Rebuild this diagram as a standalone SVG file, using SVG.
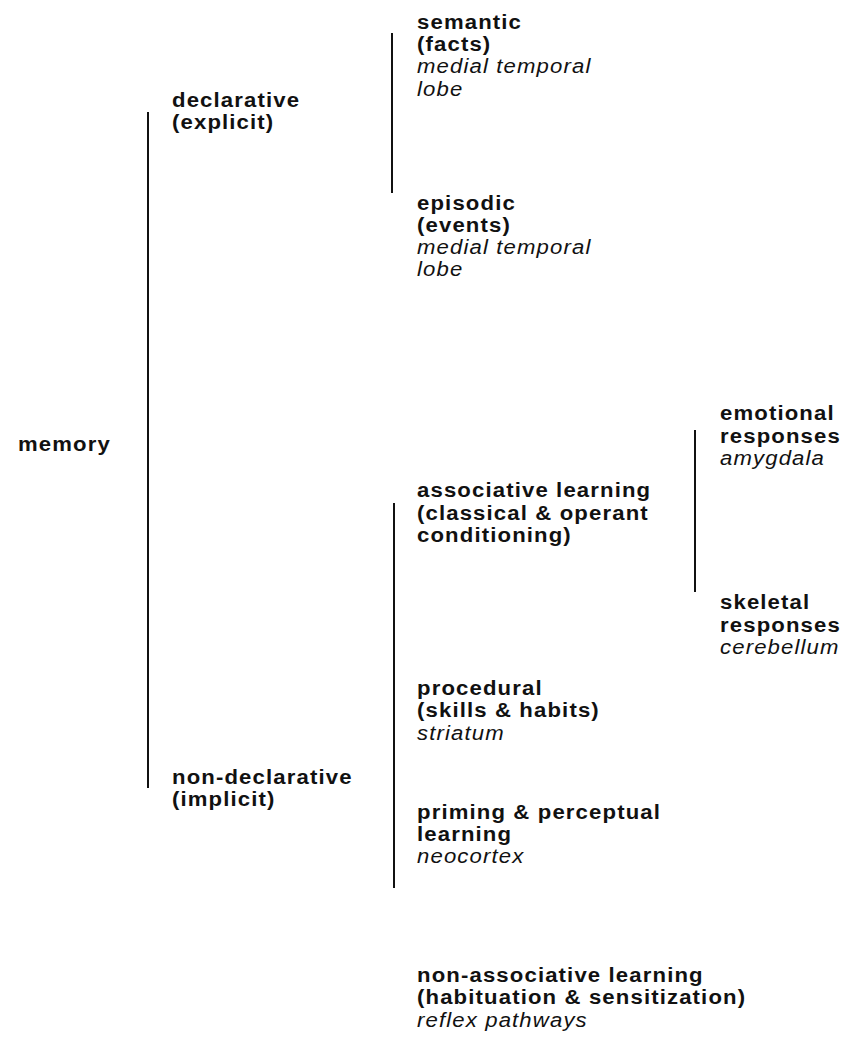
<svg xmlns="http://www.w3.org/2000/svg" width="849" height="1048" viewBox="0 0 849 1048">
<style>
text{font-family:"Liberation Sans",Arial,sans-serif;font-size:19.6px;letter-spacing:1px;fill:#111;font-weight:bold}
.i{font-style:italic;font-weight:normal}
.c{stroke:#111;stroke-width:2;fill:none}
</style>
<rect width="849" height="1048" fill="#fff"/>
<g id="connectors">
<line class="c" x1="148" y1="112" x2="148" y2="788"/>
<line class="c" x1="392" y1="33" x2="392" y2="193"/>
<line class="c" x1="394" y1="503" x2="394" y2="888"/>
<line class="c" x1="695" y1="430" x2="695" y2="592"/>
</g>
<g id="memory" transform="translate(18,0) scale(1.13,1)"><text x="0" y="451">memory</text></g>
<g id="declarative" transform="translate(172,0) scale(1.13,1)"><text x="0" y="107">declarative<tspan x="0" dy="22">(explicit)</tspan></text></g>
<g id="semantic" transform="translate(417,0) scale(1.13,1)"><text x="0" y="29">semantic<tspan x="0" dy="22">(facts)</tspan><tspan class="i" x="0" dy="22">medial temporal</tspan><tspan class="i" x="0" dy="23">lobe</tspan></text></g>
<g id="episodic" transform="translate(417,0) scale(1.13,1)"><text x="0" y="210">episodic<tspan x="0" dy="22">(events)</tspan><tspan class="i" x="0" dy="22">medial temporal</tspan><tspan class="i" x="0" dy="22">lobe</tspan></text></g>
<g id="non-declarative" transform="translate(172,0) scale(1.13,1)"><text x="0" y="784">non-declarative<tspan x="0" dy="22">(implicit)</tspan></text></g>
<g id="associative" transform="translate(417,0) scale(1.13,1)"><text x="0" y="497">associative learning<tspan x="0" dy="23">(classical &amp; operant</tspan><tspan x="0" dy="22">conditioning)</tspan></text></g>
<g id="emotional" transform="translate(720,0) scale(1.13,1)"><text x="0" y="420">emotional<tspan x="0" dy="23">responses</tspan><tspan class="i" x="0" dy="22">amygdala</tspan></text></g>
<g id="skeletal" transform="translate(720,0) scale(1.13,1)"><text x="0" y="609">skeletal<tspan x="0" dy="23">responses</tspan><tspan class="i" x="0" dy="22">cerebellum</tspan></text></g>
<g id="procedural" transform="translate(417,0) scale(1.13,1)"><text x="0" y="695">procedural<tspan x="0" dy="22">(skills &amp; habits)</tspan><tspan class="i" x="0" dy="23">striatum</tspan></text></g>
<g id="priming" transform="translate(417,0) scale(1.13,1)"><text x="0" y="819">priming &amp; perceptual<tspan x="0" dy="22">learning</tspan><tspan class="i" x="0" dy="22">neocortex</tspan></text></g>
<g id="non-associative" transform="translate(417,0) scale(1.13,1)"><text x="0" y="982">non-associative learning<tspan x="0" dy="22">(habituation &amp; sensitization)</tspan><tspan class="i" x="0" dy="23">reflex pathways</tspan></text></g>
</svg>
